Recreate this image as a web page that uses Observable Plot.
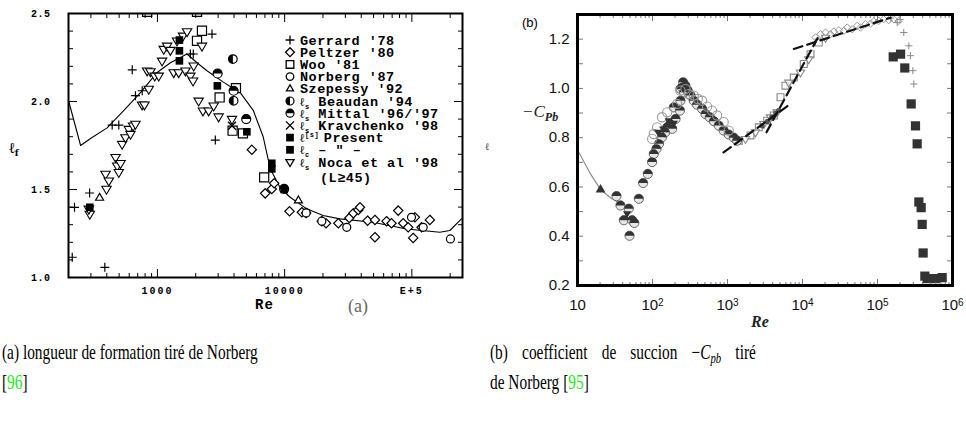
<!DOCTYPE html>
<html><head><meta charset="utf-8">
<script src="https://cdn.jsdelivr.net/npm/d3@7"></script>
<script src="https://cdn.jsdelivr.net/npm/@observablehq/plot@0.6"></script>
<style>
body{margin:0;background:#fff;}
#root{position:relative;width:966px;height:439px;overflow:hidden;background:#fff}
.abs{position:absolute;left:0;top:0}
</style></head><body>
<div id="root">
 <div id="pa" class="abs" style="left:0;top:0"></div>
 <div id="pb" class="abs" style="left:480px;top:0"></div>
 <svg id="ann" class="abs" width="966" height="439" style="pointer-events:none"></svg>
</div>
<script>
// ---------------- Panel (a): formation length vs Re ----------------
const curveA_re = [201,249,298,402,545,736,995,1265,1514,1709,2047,2452,3297,4477,5662,6778,7690,9220,11040,14930,20040,27240,49430,90820,166000,198700,245500];
const curveA_lf = [2.00,1.75,1.79,1.85,1.95,2.05,2.165,2.22,2.25,2.27,2.22,2.175,2.11,2.05,1.95,1.80,1.62,1.51,1.456,1.39,1.352,1.333,1.314,1.276,1.257,1.267,1.333];
const gerrard = [[214,1.115],[223,1.399],[293,1.48],[386,1.058],[441,1.866],[497,1.866],[634,2.18],[672,2.033],[759,2.061],[1815,2.27],[1914,2.27],[2685,2.383],[2851,1.781]];
const peltzer = [[5521,1.726],[7030,1.478],[7925,1.503],[8271,1.535],[10920,1.376],[13640,1.371],[14760,1.367],[19590,1.32],[21150,1.308],[26420,1.308],[32230,1.338],[34650,1.365],[37920,1.384],[39090,1.399],[44870,1.323],[51260,1.229],[51260,1.327],[63240,1.32],[69190,1.308],[78100,1.38],[85490,1.308],[93560,1.285],[102400,1.225],[105600,1.342],[119200,1.285],[138500,1.327]];
const woo = [[2239,2.402],[2047,2.345],[3083,2.023],[4140,2.076],[3899,1.834],[4699,1.819],[6902,1.569],[830,2.51],[2047,2.51]];
const norberg = [[200900,1.219],[30770,1.285],[99300,1.342],[122700,1.285],[14760,1.367],[19590,1.32]];
const szepessy = [[12830,1.437],[351,1.452]];
const beaudan = [[3917,2.241],[3972,2.004]];
const mittal = [[2972,2.159],[3972,2.061],[4990,1.9],[9907,1.503]];
const kravchenko = [[3856,1.862]];
const present = [[294,1.399],[1489,2.231],[1489,2.288],[2958,2.089],[5047,1.828],[7925,1.649]];
const lcPresent = [[7925,1.617],[9907,1.5],[1489,2.349]];
const noca = [[294,1.361],[289,1.39],[391,1.588],[398,1.503],[415,1.55],[469,1.683],[483,1.635],[497,1.598],[513,1.649],[528,1.758],[561,1.796],[596,1.843],[614,1.815],[644,1.862],[672,1.872],[758,1.982],[791,1.982],[830,2.175],[881,2.171],[855,2.071],[953,2.146],[1024,2.146],[1088,2.231],[1121,2.298],[1191,2.316],[1264,2.292],[1343,2.165],[1426,2.345],[1469,2.165],[1588,2.373],[1709,2.398],[1660,2.175],[1815,2.146],[1905,2.118],[1928,2.203],[2109,2.004],[2239,2.316],[2280,1.948],[2528,1.948],[2768,1.976],[3027,1.914],[3856,1.9]];
const xMajorA = [1000,10000,100000];
const xLabelsA = ["1000","10000","E+5"];
const xMinorA = [300,400,500,600,700,800,900,2000,3000,4000,5000,6000,7000,8000,9000,20000,30000,40000,50000,60000,70000,80000,90000,200000];
const yMajorA = [1.0,1.5,2.0,2.5];
const yMinorA = [1.1,1.2,1.3,1.4,1.6,1.7,1.8,1.9,2.1,2.2,2.3,2.4];
const legendA = ["Gerrard '78","Peltzer '80","Woo '81","Norberg '87","Szepessy '92","Beaudan '94","Mittal '96/'97","Kravchenko '98","Present","–  \"  –","Noca et al '98","(L≥45)"];

// ---------------- Panel (b): base suction coefficient vs Re ----------------
const lineB = [[10.4,0.741],[14.9,0.653],[20.3,0.589],[27.5,0.556],[37.4,0.532]];
const triUpB = [[20.3,0.589]];
const halfB = [[33.1,0.563],[37.4,0.525],[41.5,0.465],[48.3,0.512],[49.4,0.402],[53.5,0.465],[57.2,0.454],[65.7,0.552],[75,0.616],[86.6,0.653],[98.8,0.701],[104,0.734],[113,0.755],[122,0.775],[134,0.802],[148,0.822],[157,0.842],[173,0.856],[183,0.836],[192,0.923],[203,0.876],[232,0.91],[236,0.95],[236,0.998],[248,1.004],[256,1.025],[263,0.984],[275,1.011],[295,0.991],[322,0.971],[355,0.95],[394,0.934],[459,0.917],[509,0.896],[580,0.883],[658,0.867],[763,0.849],[888,0.829],[1037,0.813],[1212,0.8],[1340,0.788]];
const openCircB = [[104,0.815],[99,0.795],[115,0.842],[134,0.883],[157,0.903],[213,0.937],[236,0.991],[275,0.998],[305,0.977],[355,0.971],[402,0.957],[459,0.95],[534,0.926],[621,0.91],[727,0.89],[889,0.863],[1037,0.829]];
const triDownB = [[45.9,0.492],[119,0.822],[139,0.836],[165,0.869],[192,0.859]];
const darkDotB = [[2900,0.848],[3400,0.866],[3900,0.884],[4400,0.9],[4800,0.91]];
const openSquareB = [[1416,0.788],[2027,0.809],[2618,0.842],[3380,0.869],[4150,0.890],[5090,0.964],[5930,1.011],[7650,1.044],[10400,1.099],[12800,1.139],[16500,1.186]];
const openTriB = [[1738,0.795],[2362,0.822],[3050,0.856],[3740,0.883],[4590,0.903],[6570,1.024],[9400,1.065],[12100,1.119],[20300,1.206]];
const openDiamB = [[14900,1.207],[17400,1.22],[20300,1.227],[23600,1.22],[26200,1.231],[30500,1.236],[35600,1.234],[39400,1.247],[45900,1.24],[53600,1.254],[59300,1.247],[69200,1.261],[80700,1.263],[89300,1.272],[104000,1.274],[121000,1.281],[141000,1.277],[165000,1.281],[192000,1.274]];
const plusB = [[150000,1.285],[183000,1.267],[200000,1.28],[224000,1.227],[262000,1.173],[275000,1.133],[296000,1.072],[305000,1.018]];
const squareB = [[162000,1.128],[203000,1.139],[231000,1.083],[281000,0.937],[321000,0.848],[338000,0.775],[356000,0.539],[382000,0.516],[394000,0.448],[406000,0.332],[428000,0.238],[459000,0.228],[593000,0.228],[728000,0.232]];
const dashLow = [[885,0.74],[6400,0.93]];
const dashSteep = [[3310,0.822],[16500,1.213]];
const dashHigh = [[7650,1.16],[149000,1.287]];
const xMajorB = [10,100,1000,10000,100000,1000000];
const xLabelsB = ["10","10^2","10^3","10^4","10^5","10^6"];
const xMinorB = [20,30,40,50,60,70,80,90,200,300,400,500,600,700,800,900,2000,3000,4000,5000,6000,7000,8000,9000,20000,30000,40000,50000,60000,70000,80000,90000,200000,300000,400000,500000,600000,700000,800000,900000];
const yMajorB = [0.2,0.4,0.6,0.8,1.0,1.2];
const yMinorB = [0.3,0.4,0.5,0.6,0.7,0.8,0.9,1.0,1.1,1.2];

// ---------------- custom symbols ----------------
const triDown = {draw(c, size){const r=Math.sqrt(size/Math.PI)*1.15; c.moveTo(-r*0.95,-r*0.55); c.lineTo(r*0.95,-r*0.55); c.lineTo(0,r*1.05); c.closePath();}};
const halfTop = {draw(c, size){const r=Math.sqrt(size/Math.PI); c.moveTo(-r,0); c.arc(0,0,r,Math.PI,2*Math.PI); c.closePath();}};
const halfLeft = {draw(c, size){const r=Math.sqrt(size/Math.PI); c.moveTo(0,r); c.arc(0,0,r,Math.PI/2,3*Math.PI/2); c.closePath();}};

const P = (data, o) => Plot.dot(data, {x: d => d[0], y: d => d[1], clip: true, ...o});
const monoA = "'Liberation Mono', 'DejaVu Sans Mono', monospace";

const plotA = Plot.plot({
  width: 480, height: 320,
  marginLeft: 68, marginRight: 18, marginTop: 13, marginBottom: 43,
  style: {fontFamily: monoA, fontWeight: "bold", fontSize: "10px", background: "transparent", overflow: "visible", color: "black"},
  x: {type: "log", domain: [200, 250000]},
  y: {domain: [1.0, 2.5]},
  marks: [
    Plot.line(curveA_re.map((r, i) => [r, curveA_lf[i]]), {x: d => d[0], y: d => d[1], stroke: "black", strokeWidth: 1.1}),
    P(gerrard, {symbol: "plus", r: 3.0, stroke: "black", strokeWidth: 1.2}),
    P(peltzer, {symbol: "diamond2", r: 4.2, stroke: "black", fill: "white", strokeWidth: 1.2}),
    P(woo, {symbol: "square2", r: 5.8, stroke: "black", fill: "white", strokeWidth: 1.2}),
    P(norberg, {symbol: "circle", r: 4, stroke: "black", fill: "white", strokeWidth: 1.2}),
    P(szepessy, {symbol: "triangle2", r: 3.8, stroke: "black", fill: "white", strokeWidth: 1.2}),
    P(noca, {symbol: triDown, r: 4.3, stroke: "black", fill: "white", strokeWidth: 1.1}),
    P(beaudan, {symbol: "circle", r: 4.3, stroke: "black", fill: "white", strokeWidth: 1.2}),
    P(beaudan, {symbol: halfLeft, r: 4.3, fill: "black"}),
    P(mittal, {symbol: "circle", r: 4.5, stroke: "black", fill: "white", strokeWidth: 1.2}),
    P(mittal, {symbol: halfTop, r: 4.5, fill: "black"}),
    P(kravchenko, {symbol: "times", r: 3.7, stroke: "black", strokeWidth: 1.4}),
    P(present, {symbol: "square", r: 4.3, fill: "black"}),
    P(lcPresent, {symbol: "square", r: 4.3, fill: "black"}),
    Plot.axisX(xMinorA, {anchor: "bottom", tickSize: -4, fill: "none", label: null}),
    Plot.axisX(xMajorA, {anchor: "bottom", tickSize: -8, fill: "none", label: null}),
    Plot.axisX(xMinorA, {anchor: "top", tickSize: -4, fill: "none", label: null}),
    Plot.axisX(xMajorA, {anchor: "top", tickSize: -8, fill: "none", label: null}),
    Plot.axisY(yMinorA, {anchor: "left", tickSize: -5, fill: "none", label: null}),
    Plot.axisY(yMajorA, {anchor: "left", tickSize: -9, fill: "none", label: null}),
    Plot.axisY(yMinorA, {anchor: "right", tickSize: -5, fill: "none", label: null}),
    Plot.axisY(yMajorA, {anchor: "right", tickSize: -9, fill: "none", label: null}),
    Plot.axisX(xMajorA, {anchor: "bottom", tickSize: 0, tickPadding: 9, tickFormat: d => xLabelsA[xMajorA.indexOf(d)], label: null, fontSize: 10, fontWeight: "bold"}),
    Plot.axisY(yMajorA, {anchor: "left", tickSize: 0, tickPadding: 18, tickFormat: d => d.toFixed(1), label: null, fontSize: 10, fontWeight: "bold"}),
    Plot.frame({stroke: "black", strokeWidth: 2})
  ]
});
document.getElementById("pa").appendChild(plotA);
d3.select(plotA).selectAll("[aria-label='x-axis tick label'] text").attr("letter-spacing", "2px");
d3.select(plotA).selectAll("[aria-label='y-axis tick label'] text").attr("letter-spacing", "0.5px");

const plotB = Plot.plot({
  width: 486, height: 320,
  marginLeft: 97, marginRight: 14, marginTop: 14, marginBottom: 35,
  style: {fontFamily: "'Liberation Sans', Arial, sans-serif", fontSize: "15px", background: "transparent", overflow: "visible", color: "#111"},
  x: {type: "log", domain: [10, 1000000]},
  y: {domain: [0.2, 1.3]},
  marks: [
    Plot.line(lineB, {x: d => d[0], y: d => d[1], stroke: "#888", strokeWidth: 1.1}),
    P(triUpB, {symbol: "triangle", r: 3.6, fill: "#333"}),
    P(openDiamB, {symbol: "diamond2", r: 3.3, stroke: "#999", strokeWidth: 1}),
    P(openSquareB, {symbol: "square2", r: 4.4, stroke: "#888", fill: "white", fillOpacity: 0.6, strokeWidth: 1.1}),
    P(openTriB, {symbol: triDown, r: 3.8, stroke: "#888", fill: "white", fillOpacity: 0.6, strokeWidth: 1.1}),
    P(darkDotB, {symbol: "circle", r: 2.6, fill: "#555"}),
    P(halfB, {symbol: "circle", r: 4.6, fill: "#e6e6e6", stroke: "#666", strokeWidth: 1}),
    P(halfB, {symbol: halfTop, r: 4.6, fill: "#333"}),
    P(openCircB, {symbol: "circle", r: 4.6, stroke: "#999", strokeWidth: 1.1}),
    P(triDownB, {symbol: triDown, r: 3.8, fill: "#333"}),
    P(plusB, {symbol: "plus", r: 2.4, stroke: "#888", strokeWidth: 1}),
    P(squareB, {symbol: "square", r: 5.2, fill: "#333"}),
    Plot.line(dashLow, {x: d => d[0], y: d => d[1], stroke: "#111", strokeWidth: 2.2, strokeDasharray: "9,5"}),
    Plot.line(dashSteep, {x: d => d[0], y: d => d[1], stroke: "#111", strokeWidth: 2.2, strokeDasharray: "9,5"}),
    Plot.line(dashHigh, {x: d => d[0], y: d => d[1], stroke: "#111", strokeWidth: 2.2, strokeDasharray: "9,5"}),
    Plot.axisX(xMinorB, {anchor: "bottom", tickSize: -3, fill: "none", stroke: "#777", label: null}),
    Plot.axisX(xMajorB, {anchor: "bottom", tickSize: -6, fill: "none", stroke: "#777", label: null}),
    Plot.axisX(xMinorB, {anchor: "top", tickSize: -3, fill: "none", stroke: "#777", label: null}),
    Plot.axisX(xMajorB, {anchor: "top", tickSize: -6, fill: "none", stroke: "#777", label: null}),
    Plot.axisY(yMinorB, {anchor: "left", tickSize: -6, fill: "none", stroke: "#777", label: null}),
    Plot.axisY(yMinorB, {anchor: "right", tickSize: -6, fill: "none", stroke: "#777", label: null}),
    Plot.axisX(xMajorB, {anchor: "bottom", tickSize: 0, tickPadding: 14, tickFormat: d => xLabelsB[xMajorB.indexOf(d)], label: null, fontSize: 15}),
    Plot.axisY(yMajorB, {anchor: "left", tickSize: 0, tickPadding: 8, tickFormat: d => d.toFixed(1), label: null, fontSize: 15}),
    Plot.frame({stroke: "black", strokeWidth: 3})
  ]
});
document.getElementById("pb").appendChild(plotB);
// superscript exponents on the (b) x tick labels
d3.select(plotB).selectAll("[aria-label='x-axis tick label'] text").each(function () {
  const s = this.textContent; if (!s.includes("^")) return;
  const [b, e] = s.split("^");
  const t = d3.select(this); t.text(b);
  t.append("tspan").attr("dy", "-0.45em").attr("font-size", "10px").text(e);
});

// ---------------- annotations ----------------
const ann = d3.select("#ann");
// (a) legend
const legSyms = [
  {t: d3.symbolPlus, s: 28, f: "none"}, {t: d3.symbolDiamond2, s: 50, f: "white"}, {t: d3.symbolSquare2, s: 75, f: "white"},
  {t: d3.symbolCircle, s: 45, f: "white"}, {t: d3.symbolTriangle2, s: 35, f: "white"}, {t: halfLeft, s: 50, f: "half"},
  {t: halfTop, s: 50, f: "half"}, {t: d3.symbolTimes, s: 44, f: "none"}, {t: d3.symbolSquare, s: 60, f: "black"},
  {t: d3.symbolSquare, s: 60, f: "black"}, {t: triDown, s: 45, f: "white"}, null
];
const legSub = ["", "", "", "", "", "s", "s", "s", "f", "c", "s", ""];
legendA.forEach((label, i) => {
  const y = i < 11 ? 40 + i * 12.2 : 177;
  const sym = legSyms[i];
  if (sym) {
    if (sym.f === "half") {
      ann.append("path").attr("transform", `translate(290,${y})`).attr("d", d3.symbol(d3.symbolCircle, sym.s)()).attr("fill", "white").attr("stroke", "black").attr("stroke-width", 1.2);
      ann.append("path").attr("transform", `translate(290,${y})`).attr("d", d3.symbol(sym.t, sym.s)()).attr("fill", "black");
    } else {
      const filled = sym.f === "black";
      ann.append("path").attr("transform", `translate(290,${y})`).attr("d", d3.symbol(sym.t, sym.s)())
        .attr("fill", filled ? "black" : sym.f).attr("stroke", filled ? "none" : "black").attr("stroke-width", 1.3);
    }
  }
  const t = ann.append("text").attr("x", i < 11 ? 300 : 320).attr("y", y + 4.5)
    .attr("font-family", monoA).attr("font-weight", "bold").attr("font-size", 13.5).attr("letter-spacing", "0.5px");
  if (legSub[i]) {
    t.append("tspan").attr("font-family", "'DejaVu Serif', serif").attr("font-size", 12).text("ℓ");
    if (i === 8) {
      t.append("tspan").attr("font-size", 7).attr("dy", -5).text("[s]");
      t.append("tspan").attr("font-size", 7).attr("dy", 0).text(" ");
      t.append("tspan").attr("dy", 5).text(label);
    } else {
      t.append("tspan").attr("font-size", 7).attr("dy", 3).text(legSub[i]);
      t.append("tspan").attr("dy", -3).text(" " + label);
    }
  } else t.text(label);
});
// (a) axis labels
const ylA = ann.append("text").attr("x", 9).attr("y", 153).attr("font-family", "'DejaVu Serif', serif").attr("font-weight", "bold").attr("font-size", 15);
ylA.append("tspan").text("ℓ"); ylA.append("tspan").attr("font-size", 9).attr("dy", 3).text("f");
ann.append("text").attr("x", 255).attr("y", 309).attr("font-family", monoA).attr("font-weight", "bold").attr("font-size", 14).attr("letter-spacing", "1px").text("Re");
ann.append("text").attr("x", 348).attr("y", 312).attr("font-family", "'Liberation Serif', serif").attr("font-size", 18).attr("fill", "#666").text("(a)");
// (b) labels
ann.append("text").attr("x", 522).attr("y", 27).attr("font-family", "'Liberation Sans', Arial, sans-serif").attr("font-size", 13).text("(b)");
const cpb = ann.append("text").attr("x", 522).attr("y", 117).attr("font-family", "'Liberation Serif', serif").attr("font-style", "italic").attr("font-size", 17).attr("fill", "#222");
cpb.append("tspan").text("−C"); cpb.append("tspan").attr("font-size", 12).attr("dy", 4).attr("font-weight", "bold").text("Pb");
ann.append("text").attr("x", 485).attr("y", 150).attr("font-family", "'DejaVu Serif', serif").attr("font-size", 10).attr("fill", "#444").text("ℓ");
ann.append("text").attr("x", 760).attr("y", 327).attr("text-anchor", "middle").attr("font-family", "'Liberation Serif', serif").attr("font-style", "italic").attr("font-weight", "bold").attr("font-size", 16).attr("fill", "#222").text("Re");

// captions
const capFont = "'Liberation Serif', 'DejaVu Serif', serif";
const capSize = 20.5;
const green = "#1ee61e";
const c1 = ann.append("text").attr("font-family", capFont).attr("font-size", capSize).text("(a) longueur de formation tiré de Norberg");
const sx = 256 / c1.node().getComputedTextLength();
c1.attr("transform", `translate(2,359) scale(${sx},1)`);
const c2 = ann.append("text").attr("font-family", capFont).attr("font-size", capSize).attr("transform", `translate(2,389) scale(${sx},1)`);
c2.append("tspan").text("["); c2.append("tspan").attr("fill", green).text("96"); c2.append("tspan").text("]");
const c3 = ann.append("text").attr("font-family", capFont).attr("font-size", capSize);
c3.append("tspan").text("(b) coefficient de succion −");
c3.append("tspan").attr("font-style", "italic").text("C");
c3.append("tspan").attr("font-style", "italic").attr("font-size", capSize * 0.7).attr("dy", 4).text("pb");
c3.append("tspan").attr("dy", -4).text(" tiré");
const w3 = c3.node().getComputedTextLength();
c3.attr("word-spacing", ((266 / sx) - w3) / 5 + "px").attr("transform", `translate(490,359) scale(${sx},1)`);
const c4 = ann.append("text").attr("font-family", capFont).attr("font-size", capSize).attr("transform", `translate(490,389) scale(${sx},1)`);
c4.append("tspan").text("de Norberg ["); c4.append("tspan").attr("fill", green).text("95"); c4.append("tspan").text("]");
</script>
</body></html>
